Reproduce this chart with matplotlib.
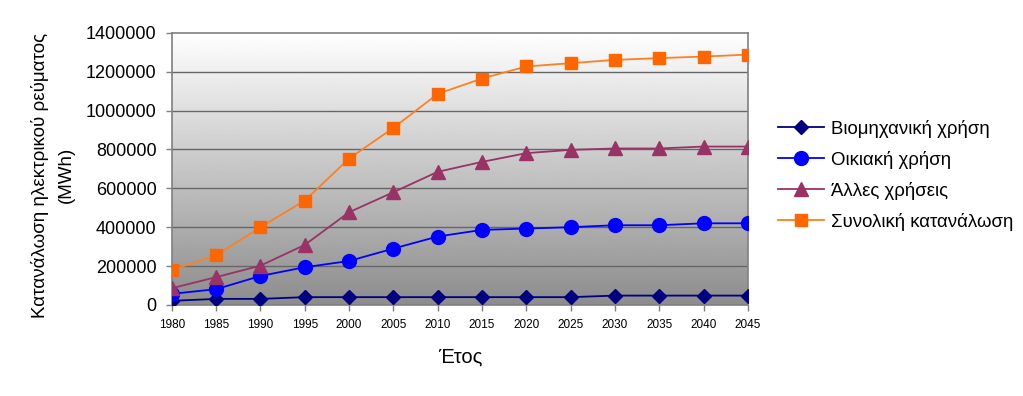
import numpy as np
import matplotlib
matplotlib.use("Agg")
import matplotlib.pyplot as plt

plt.rcParams['font.family'] = ['Liberation Sans', 'DejaVu Sans']

# data (MWh)
years = [1980, 1985, 1990, 1995, 2000, 2005, 2010, 2015, 2020, 2025, 2030, 2035, 2040, 2045]
industrial = [21000, 31000, 31000, 40000, 40000, 40000, 40000, 40000, 40000, 40000, 48000, 48000, 48000, 48000]
domestic = [57000, 81000, 149000, 194000, 226000, 290000, 352000, 386000, 393000, 400000, 410000, 410000, 420000, 420000]
other = [86000, 143000, 202000, 309000, 477000, 580000, 685000, 736000, 781000, 798000, 805000, 805000, 815000, 815000]
total = [180000, 255000, 400000, 537000, 753000, 911000, 1086000, 1165000, 1227000, 1244000, 1261000, 1270000, 1278000, 1288000]

labels = ['Βιομηχανική χρήση', 'Οικιακή χρήση', 'Άλλες χρήσεις', 'Συνολική κατανάλωση']
y_ticks = [0, 200000, 400000, 600000, 800000, 1000000, 1200000, 1400000]

fig = plt.figure(figsize=(10.23, 3.96), dpi=100)
ax = fig.add_axes([0.168, 0.230, 0.563, 0.687])

# grey gradient background, white at top
grad = np.linspace(1.0, 0.55, 256).reshape(-1, 1)
ax.imshow(grad, cmap='gray', vmin=0, vmax=1, aspect='auto',
          extent=[0, 1, 0, 1], transform=ax.transAxes, zorder=0)

for v in y_ticks[1:-1]:
    ax.axhline(v, color='#666666', lw=1.0, zorder=1)

ax.plot(years, industrial, color='#000080', lw=1.3, marker='D', ms=7.5,
        mfc='#000080', mec='#000080', label=labels[0], zorder=3)
ax.plot(years, domestic, color='#0000ff', lw=1.3, marker='o', ms=10,
        mfc='#0000ff', mec='#0000ff', label=labels[1], zorder=3)
ax.plot(years, other, color='#993366', lw=1.3, marker='^', ms=10,
        mfc='#993366', mec='#993366', label=labels[2], zorder=3)
ax.plot(years, total, color='#ff8020', lw=1.3, marker='s', ms=9,
        mfc='#ff6600', mec='#ff6600', label=labels[3], zorder=3)

ax.set_xlim(1980, 2045)
ax.set_ylim(0, 1400000)
ax.set_xticks(years)
ax.set_xticklabels([str(y) for y in years], fontsize=8.5)
ax.set_yticks(y_ticks)
ax.set_yticklabels([str(v) for v in y_ticks], fontsize=13)
ax.tick_params(axis='both', colors='#808080', labelcolor='black', length=4, width=1)
ax.tick_params(axis='x', pad=6)
ax.tick_params(axis='y', pad=7)

for s in ax.spines.values():
    s.set_color('#808080')
    s.set_linewidth(1.2)

ax.set_xlabel('Έτος', fontsize=14.5, labelpad=12)
fig.text(0.052, 0.558, 'Κατανάλωση ηλεκτρικού ρεύματος\n(MWh)', fontsize=13.5,
         rotation=90, ha='center', va='center', multialignment='center',
         linespacing=1.65)

fig.legend(loc='upper left', bbox_to_anchor=(0.744, 0.74), frameon=False,
           fontsize=13.4, handlelength=2.5, handletextpad=0.35, labelspacing=0.7)

fig.savefig('out.png', dpi=100)
